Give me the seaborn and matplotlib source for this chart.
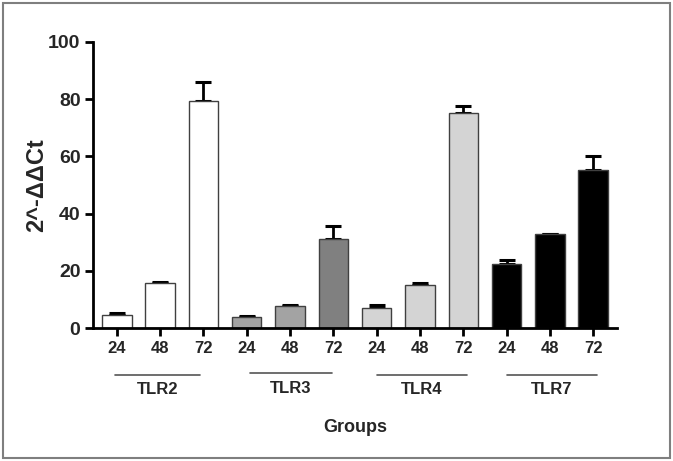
import matplotlib
matplotlib.use("Agg")
import matplotlib.pyplot as plt
from matplotlib.lines import Line2D
from matplotlib.patches import Rectangle
import seaborn as sns
import pandas as pd
import numpy as np

groups = ["TLR2", "TLR3", "TLR4", "TLR7"]
hours = ["24", "48", "72"]
means = [4.7, 15.7, 79.5, 3.8, 7.6, 31.0, 7.0, 15.0, 75.0, 22.5, 32.7, 55.3]
errs = [0.5, 0.5, 6.5, 0.4, 0.5, 4.8, 1.2, 0.7, 2.5, 1.3, 0.3, 5.0]
colors = ["#ffffff", "#ffffff", "#ffffff",
          "#a3a3a3", "#a3a3a3", "#808080",
          "#d4d4d4", "#d4d4d4", "#d4d4d4",
          "#000000", "#000000", "#000000"]

labels = [f"{g}_{h}" for g in groups for h in hours]
df = pd.DataFrame({"bar": labels, "value": means})

sns.set_theme(style="ticks")
plt.rcParams["font.family"] = ["Liberation Sans Narrow", "Liberation Sans", "DejaVu Sans"]

fig = plt.figure(figsize=6.73 * np.array([1, 461 / 673]), dpi=100)
ax = fig.add_axes([93 / 673, 1 - 328 / 461, (617 - 93) / 673, (328 - 42) / 461])

sns.barplot(data=df, x="bar", y="value", hue="bar", palette=colors, order=labels,
            hue_order=labels, legend=False, width=0.68, edgecolor="#404040",
            linewidth=1.0, ax=ax, errorbar=None, saturation=1)

xs = np.arange(len(means))
ax.errorbar(xs, means, yerr=[np.zeros(len(errs)), errs], fmt="none", ecolor="black",
            elinewidth=2, capsize=5.5, capthick=2.2, zorder=1)
for p in ax.patches:
    p.set_zorder(2)

ax.set_xlim(-0.55, 11.55)
ax.set_ylim(0, 100)
ax.set_yticks([0, 20, 40, 60, 80, 100])
ax.set_yticklabels(["0", "20", "40", "60", "80", "100"], fontsize=14, fontweight="bold")
ax.set_xticks(xs)
ax.set_xticklabels(hours * 4, fontsize=12, fontweight="bold")
ax.set_xlabel("")
ax.set_ylabel("2^-ΔΔCt", fontsize=17, fontweight="bold", family=["Liberation Sans", "DejaVu Sans"])
ax.yaxis.set_label_coords(-0.085, 0.5)
sns.despine(ax=ax)
for s in ["left", "bottom"]:
    ax.spines[s].set_linewidth(2)
    ax.spines[s].set_color("black")
ax.tick_params(axis="both", width=2, length=6, color="black", pad=3)

# group annotations
line_specs = [(115, 200, 375), (250, 332, 373), (377, 467, 375), (507, 597, 375)]
for g, (x0, x1, yl) in zip(groups, line_specs):
    fig.add_artist(Line2D([x0 / 673, x1 / 673], [1 - yl / 461, 1 - yl / 461],
                          color="#555555", lw=1.2))
    fig.text((x0 + x1) / 2 / 673, 1 - (yl + 15) / 461, g, ha="center", va="center",
             fontsize=12, fontweight="bold")
fig.text(355 / 673, 1 - 427 / 461, "Groups", ha="center", va="center", fontsize=13,
         fontweight="bold")

fig.add_artist(Rectangle((3 / 673, 3 / 461), 667 / 673, 455 / 461, fill=False,
                         edgecolor="#7f7f7f", lw=1.5, transform=fig.transFigure))

fig.savefig("out.png", dpi=100)
